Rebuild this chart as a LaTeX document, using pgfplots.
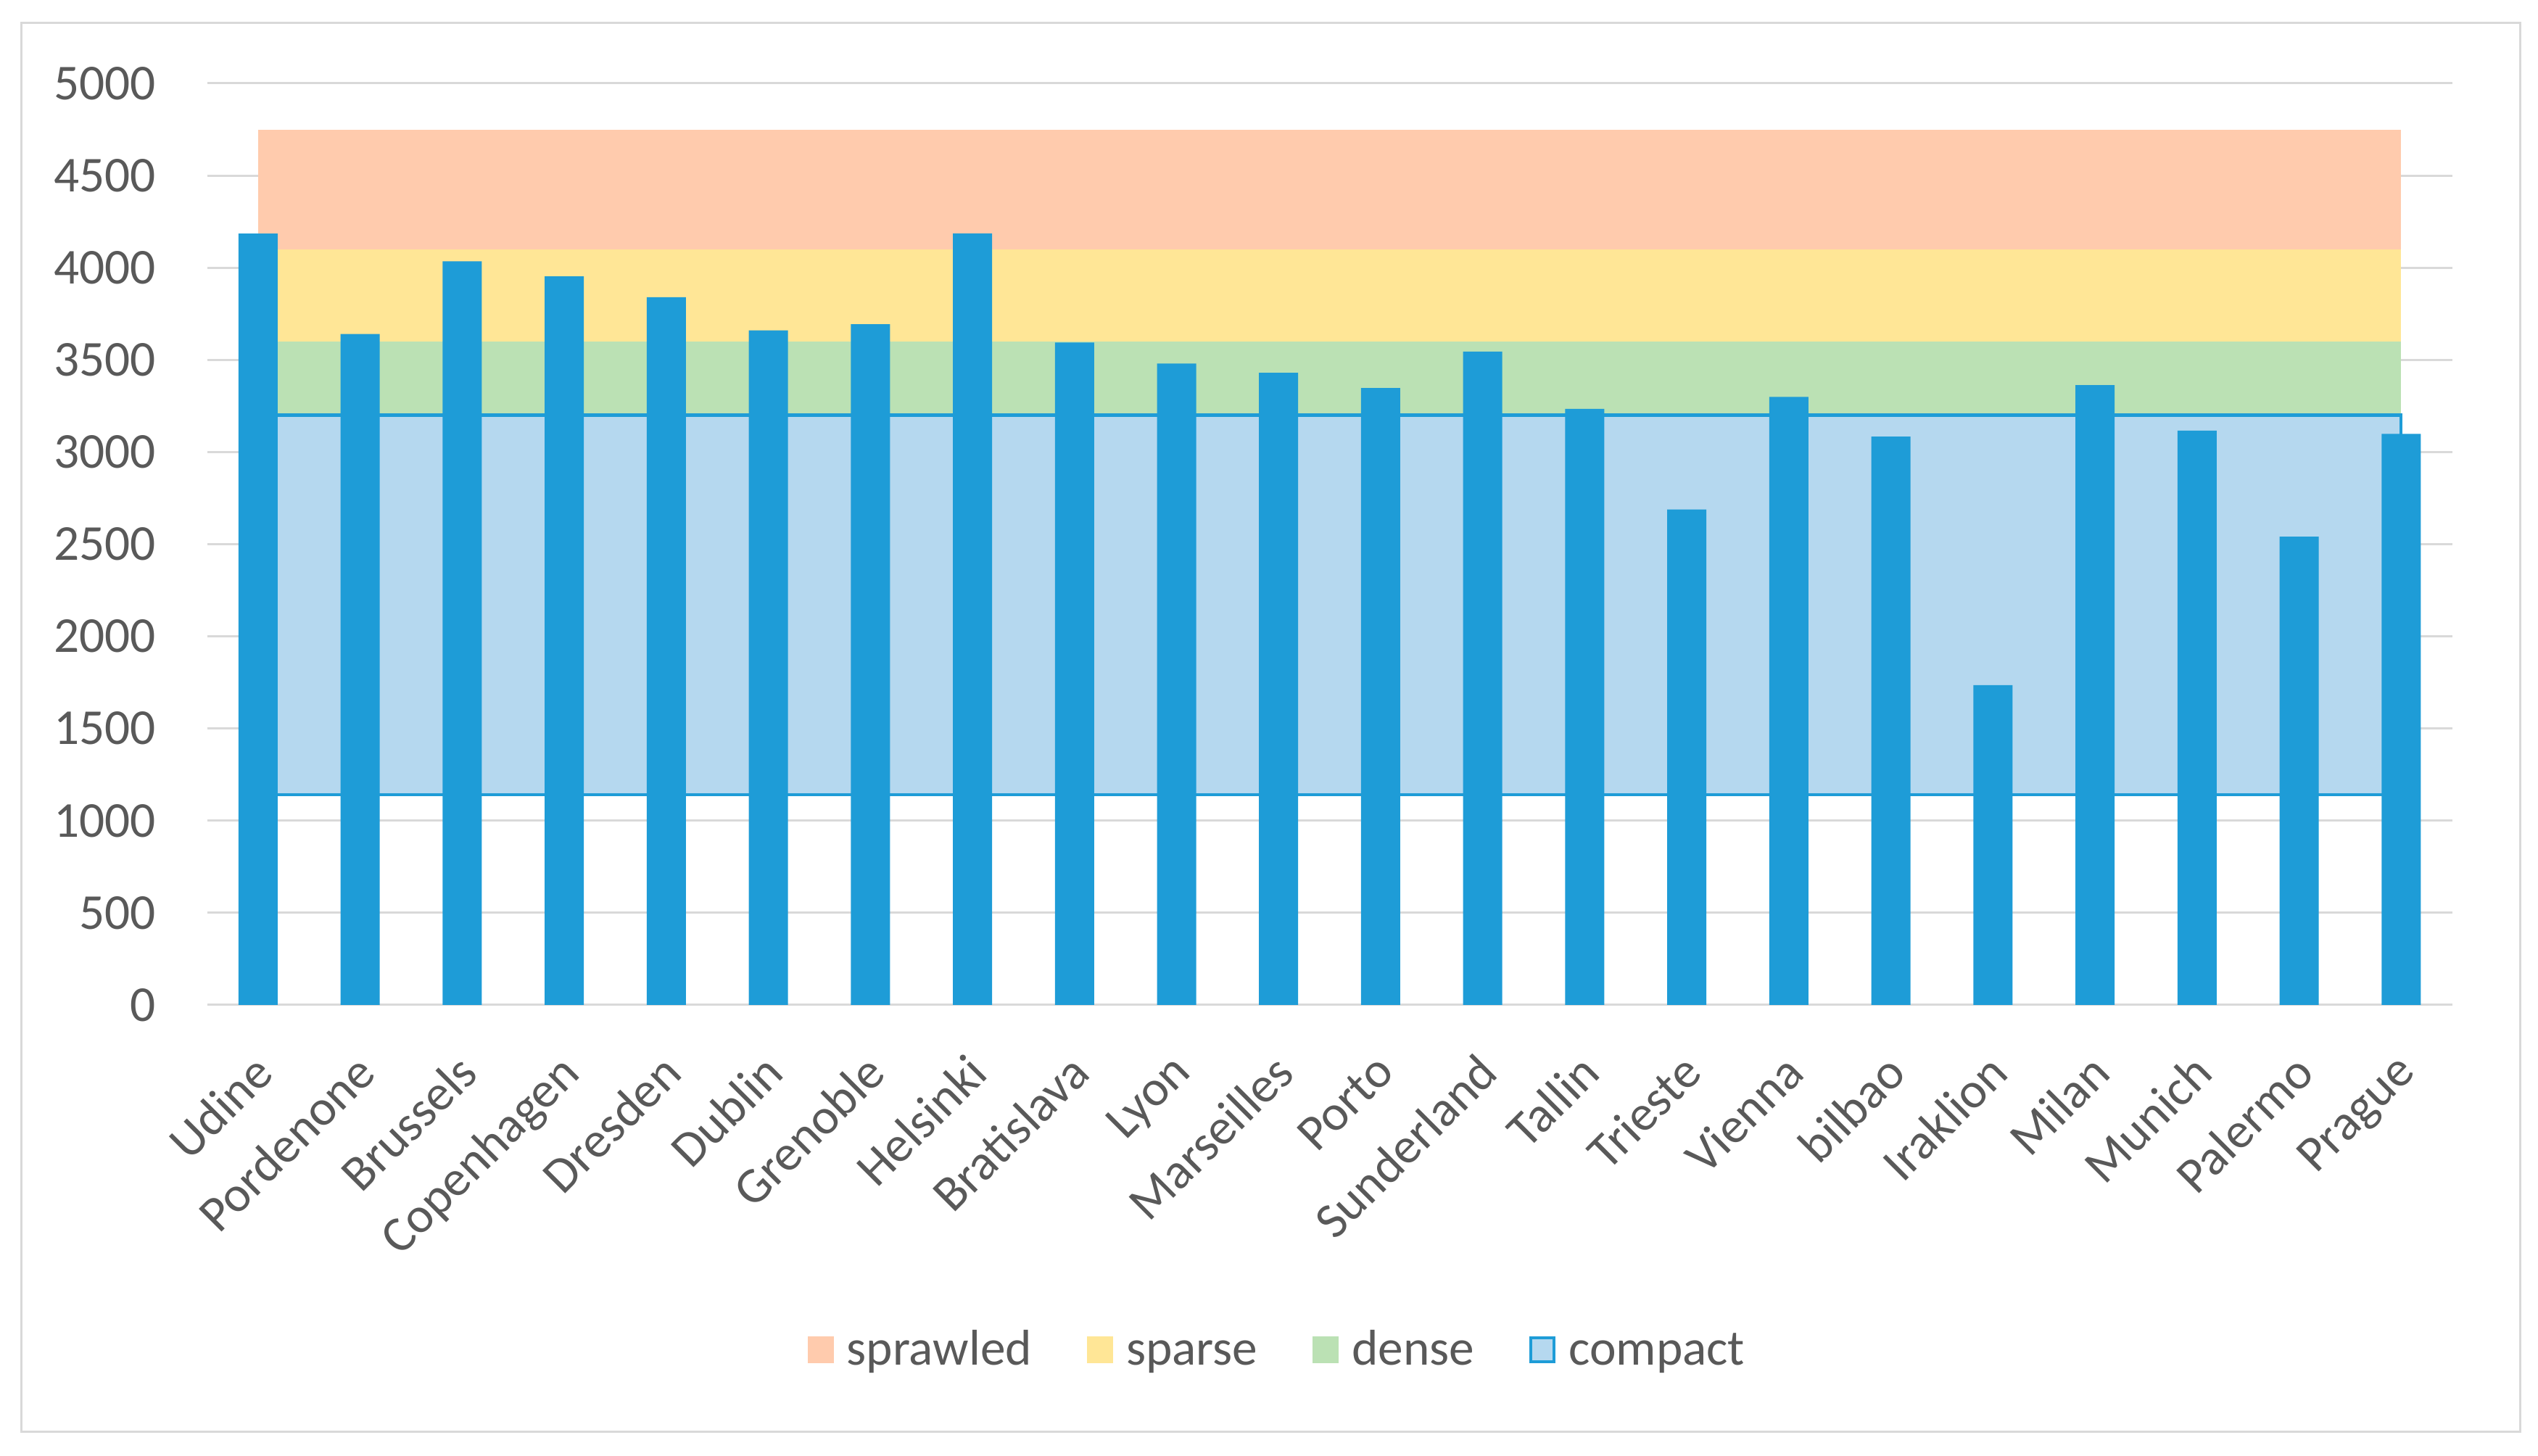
\documentclass[border=0pt]{standalone}
\usepackage{fontspec}
\setmainfont{Carlito}
\usepackage{pgfplots}
\pgfplotsset{compat=1.18}
\definecolor{sprawled}{RGB}{255,203,173}
\definecolor{sparse}{RGB}{255,230,150}
\definecolor{dense}{RGB}{187,225,180}
\definecolor{compact}{RGB}{181,216,239}
\definecolor{barblue}{RGB}{30,156,215}
\definecolor{gridgray}{RGB}{217,217,217}
\definecolor{labelgray}{RGB}{89,89,89}
\begin{document}
\begin{tikzpicture}
\useasboundingbox (0,0) rectangle (525pt,301.2pt);
\draw[gridgray, line width=0.45pt] (4.35pt,4.95pt) rectangle (521.25pt,296.4pt);
\begin{axis}[
  at={(42.84pt,93.3pt)}, anchor=south west,
  scale only axis, width=464.4pt, height=190.65pt,
  xmin=-0.5, xmax=21.5, ymin=0, ymax=5000,
  axis line style={draw=none},
  major tick length=0pt,
  ytick={0,500,...,5000},
  ymajorgrids, grid style={gridgray, line width=0.45pt},
  xtick={0,...,21},
  xticklabels={Udine,Pordenone,Brussels,Copenhagen,Dresden,Dublin,Grenoble,Helsinki,Bratislava,Lyon,Marseilles,Porto,Sunderland,Tallin,Trieste,Vienna,bilbao,Iraklion,Milan,Munich,Palermo,Prague},
  tick label style={font=\fontsize{10.4}{12}\selectfont, text=labelgray},
  /pgf/number format/assume math mode=true,
  /pgf/number format/1000 sep={},
  yticklabel style={anchor=east, inner sep=0pt, xshift=-10.4pt},
  xticklabel style={xshift=-1.5pt, yshift=-9.3pt, rotate=45, anchor=north east, inner sep=0pt},
  legend style={at={(0.4762,-0.376)}, anchor=center, draw=none, fill=none, inner sep=0pt,
    font=\fontsize{10.4}{12}\selectfont, text=labelgray,
    nodes={inner sep=0pt, anchor=base},
    /tikz/every odd column/.append style={column sep=2.7pt},
    /tikz/every even column/.append style={column sep=11.4pt}},
  legend columns=-1,
]
\addplot[fill=sprawled, draw=none, legend image code/.code={\fill[sprawled] (0pt,0.45pt) rectangle (5.4pt,6pt);}]
  coordinates {(0,4100)(0,4750)(21,4750)(21,4100)};
\addlegendentry{sprawled}
\addplot[fill=sparse, draw=none, legend image code/.code={\fill[sparse] (0pt,0.45pt) rectangle (5.4pt,6pt);}]
  coordinates {(0,3600)(0,4100)(21,4100)(21,3600)};
\addlegendentry{sparse}
\addplot[fill=dense, draw=none, legend image code/.code={\fill[dense] (0pt,0.45pt) rectangle (5.4pt,6pt);}]
  coordinates {(0,3200)(0,3600)(21,3600)(21,3200)};
\addlegendentry{dense}
\addplot[fill=compact, draw=barblue, line width=0.65pt, line join=miter,
  legend image code/.code={\filldraw[fill=compact, draw=barblue, line width=0.6pt] (0.3pt,0.75pt) rectangle (5.1pt,5.7pt);}]
  coordinates {(0,1140)(0,3200)(21,3200)(21,1140)(0,1140)};
\addlegendentry{compact}
\addplot[ybar, bar width=8.1pt, fill=barblue, draw=none, forget plot]
  coordinates {(0,4185)(1,3640)(2,4035)(3,3953)(4,3840)(5,3660)(6,3693)(7,4186)(8,3594)(9,3480)(10,3430)(11,3347)(12,3545)(13,3234)(14,2688)(15,3299)(16,3084)(17,1735)(18,3363)(19,3116)(20,2541)(21,3098)};
\end{axis}
\end{tikzpicture}
\end{document}
